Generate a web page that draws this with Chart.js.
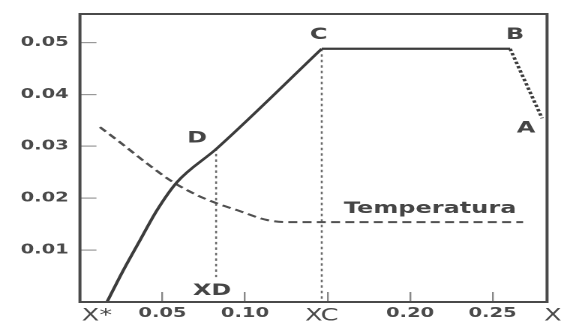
<!DOCTYPE html>
<html>
<head>
<meta charset="utf-8">
<script src="https://cdn.jsdelivr.net/npm/chart.js@4.4.1/dist/chart.umd.min.js"></script>
<style>
html,body{margin:0;padding:0;background:#fff;overflow:hidden;}
canvas{display:block;}
</style>
</head>
<body>
<canvas id="c"></canvas>
<script>
// ---- data ----
const curveToC = [[0.0164,0],[0.0261,0.0060],[0.0364,0.0119],[0.0467,0.0177],[0.0588,0.0231],[0.0830,0.0296],[0.1465,0.0488]];
const lineCB = [[0.1465,0.0488],[0.2606,0.0488]];
const lineBA = [[0.2606,0.0488],[0.2800,0.0354]];
const temperature = [[0.0121,0.0337],[0.0242,0.0308],[0.0406,0.0267],[0.0564,0.0231],[0.0709,0.0206],[0.0830,0.0190],[0.0952,0.0177],[0.1133,0.0158],[0.1255,0.0154],[0.2685,0.0154]];
const dropC = [[0.1465,0.0488],[0.1465,0]];
const dropD = [[0.0825,0.0296],[0.0825,0.0048]];
const yTickValues = [0.01,0.02,0.03,0.04,0.05];
const yTickLabels = ['0.01','0.02','0.03','0.04','0.05'];
const xTickValues = [0.0103,0.05,0.10,0.1465,0.15,0.20,0.25,0.2865];
const xTickLabels = ['X*','0.05','0.10','XC','','0.20','0.25','X'];
const xMarkedTicks = [0.05,0.10,0.15,0.20,0.25];
const pointNames = ['C','B','A','D','XD','Temperatura'];
const pointAnchors = [[0.1465,0.0488],[0.2606,0.0488],[0.2800,0.0354],[0.0830,0.0296],[0.0825,0],[0.2685,0.0154]];
const xRange = [0, 0.283];
const yRange = [0, 0.0555];

// ---- rendering ----
const W = 561, H = 323, S = 1.5;      // horizontal stretch of the whole figure
const canvas = document.getElementById('c');
canvas.width = Math.round(W / S);
canvas.height = H;
canvas.style.width = W + 'px';
canvas.style.height = H + 'px';

const toXY = arr => arr.map(p => ({x: p[0], y: p[1]}));
const INK = '#3c3c3c';
const FONT = 'DejaVu Sans';

const labelStyle = {
  'C':           {dx: -2,   dy: -14, font: 'bold 16px ' + FONT},
  'B':           {dx: 3.3,  dy: -14, font: 'bold 16px ' + FONT},
  'A':           {dx: -10.7,dy: 10,  font: 'bold 16px ' + FONT},
  'D':           {dx: -13.3,dy: -10, font: 'bold 16px ' + FONT},
  'XD':          {dx: -2.7, dy: -11, font: 'bold 16px ' + FONT},
  'Temperatura': {dx: -62,  dy: -13, font: 'bold 16px ' + FONT}
};

const framePlugin = {
  id: 'frame',
  afterDatasetsDraw(chart) {
    const {ctx, chartArea: a, scales} = chart;
    ctx.save();
    ctx.strokeStyle = '#4a4a4a';
    ctx.lineWidth = 2;
    ctx.strokeRect(a.left, a.top, a.right - a.left, a.bottom - a.top);
    ctx.fillStyle = '#454545';
    ctx.textAlign = 'center';
    ctx.textBaseline = 'middle';
    pointNames.forEach((name, i) => {
      const st = labelStyle[name];
      const px = scales.x.getPixelForValue(pointAnchors[i][0]) + st.dx;
      const py = scales.y.getPixelForValue(pointAnchors[i][1]) + st.dy;
      ctx.font = st.font;
      ctx.fillText(name, px, py);
    });
    ctx.restore();
  }
};

new Chart(canvas, {
  type: 'line',
  data: {
    datasets: [
      {data: toXY(curveToC), borderColor: INK, borderWidth: 2.2, cubicInterpolationMode: 'monotone'},
      {data: toXY(lineCB), borderColor: INK, borderWidth: 2.2, tension: 0},
      {data: toXY(lineBA), borderColor: INK, borderWidth: 2.4, borderDash: [2.5, 2]},
      {data: toXY(temperature), borderColor: '#505050', borderWidth: 2, borderDash: [6, 3.5], cubicInterpolationMode: 'monotone'},
      {data: toXY(dropC), borderColor: '#6a6a6a', borderWidth: 1.3, borderDash: [2.5, 3]},
      {data: toXY(dropD), borderColor: '#6a6a6a', borderWidth: 1.3, borderDash: [2.5, 3]}
    ]
  },
  options: {
    responsive: false,
    animation: false,
    devicePixelRatio: 2,
    elements: {point: {radius: 0, hoverRadius: 0}, line: {fill: false}},
    layout: {padding: {top: 14, right: 9.3, bottom: 0, left: 0}},
    plugins: {legend: {display: false}, tooltip: {enabled: false}},
    events: [],
    scales: {
      x: {
        type: 'linear',
        min: xRange[0], max: xRange[1],
        border: {display: false},
        grid: {
          drawOnChartArea: false, drawTicks: true, tickLength: -10, lineWidth: 1.2,
          tickColor: ctx => (ctx.tick && xMarkedTicks.some(v => Math.abs(v - ctx.tick.value) < 1e-6)) ? '#888' : 'rgba(0,0,0,0)'
        },
        afterBuildTicks: axis => { axis.ticks = xTickValues.map(v => ({value: v})); },
        afterFit: axis => { axis.height = 21; axis.paddingLeft = 0; axis.paddingRight = 0; },
        ticks: {
          autoSkip: false, maxRotation: 0, minRotation: 0, padding: 14,
          color: '#4a4a4a',
          font: ctx => /X/.test(xTickLabels[ctx.index] || '') ? {family: FONT, size: 17, weight: 'normal'} : {family: FONT, size: 13, weight: 'bold'},
          callback: (v, i) => xTickLabels[i]
        }
      },
      y: {
        type: 'linear',
        min: yRange[0], max: yRange[1],
        border: {display: false},
        grid: {drawOnChartArea: false, drawTicks: true, tickLength: -11, tickColor: '#999', lineWidth: 1.2},
        afterBuildTicks: axis => { axis.ticks = yTickValues.map(v => ({value: v})); },
        afterFit: axis => { axis.width = 53.3; axis.paddingTop = 0; axis.paddingBottom = 0; },
        ticks: {
          autoSkip: false, padding: 18.5,
          color: '#4a4a4a',
          font: {family: FONT, size: 13, weight: 'bold'},
          callback: (v, i) => yTickLabels[i]
        }
      }
    }
  },
  plugins: [framePlugin]
});
</script>
</body>
</html>
